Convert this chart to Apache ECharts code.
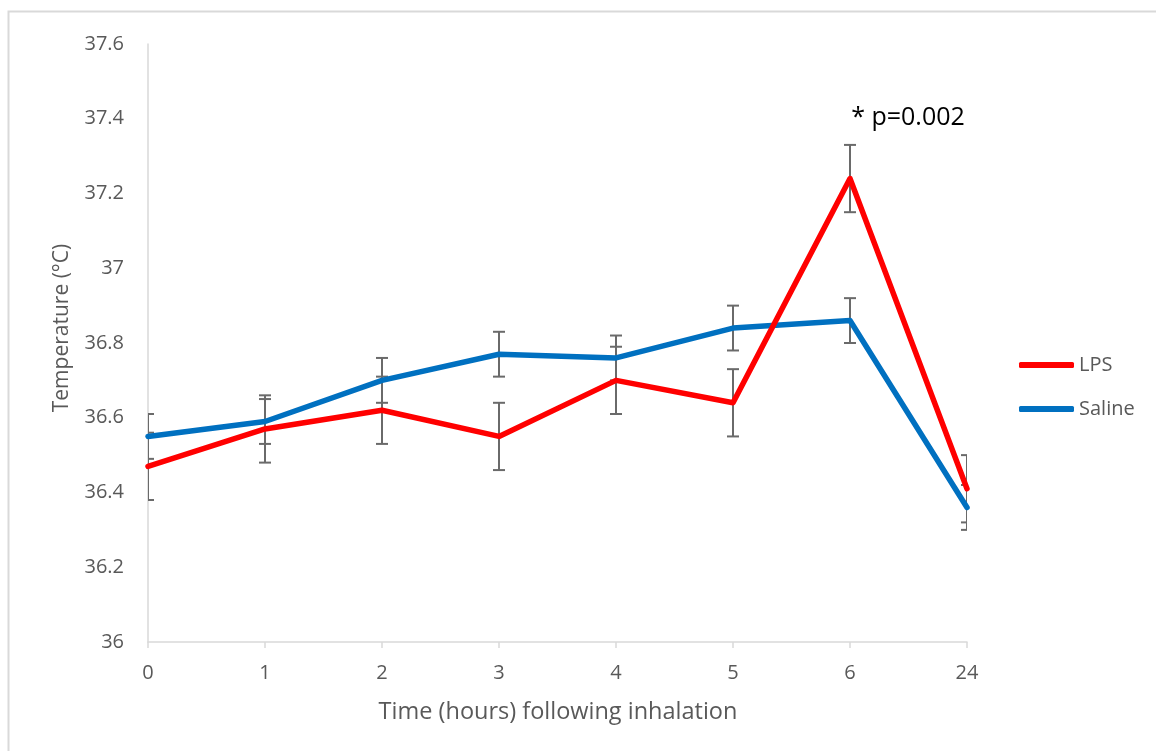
<!DOCTYPE html>
<html>
<head>
<meta charset="utf-8">
<title>Body temperature after inhalation</title>
<script src="https://cdn.jsdelivr.net/npm/echarts@6/dist/echarts.min.js"></script>
<style>
  html, body { margin: 0; padding: 0; background: #ffffff; }
  #chart { width: 1156px; height: 751px; }
</style>
</head>
<body>
<div id="chart"></div>
<script>
// Time points (hours after inhalation)
const categories = ['0', '1', '2', '3', '4', '5', '6', '24'];

// Mean temperature (°C) per group
const lpsValues    = [36.47, 36.57, 36.62, 36.55, 36.70, 36.64, 37.24, 36.41];
const salineValues = [36.55, 36.59, 36.70, 36.77, 36.76, 36.84, 36.86, 36.36];

// Error bar half-widths (°C)
const lpsErrors    = [0.09, 0.09, 0.09, 0.09, 0.09, 0.09, 0.09, 0.09];
const salineErrors = [0.06, 0.06, 0.06, 0.06, 0.06, 0.06, 0.06, 0.06];

// Y axis range
const yMin = 36;
const yMax = 37.6;
const yStep = 0.2;

const annotationText = '* p=0.002';

const textGray = '#595959';
const axisGray = '#d9d9d9';
const barGray = '#6a6a6a';
const fontFamily = '"Open Sans", "Noto Sans", sans-serif';

function errorData(values, errors) {
  return values.map((v, i) => [i, +(v - errors[i]).toFixed(3), +(v + errors[i]).toFixed(3)]);
}

function renderErrorBar(params, api) {
  const x = api.value(0);
  const top = api.coord([x, api.value(2)]);
  const bot = api.coord([x, api.value(1)]);
  const hw = 6;
  const style = { stroke: barGray, lineWidth: 2, fill: null };
  return {
    type: 'group',
    children: [
      { type: 'line', shape: { x1: top[0], y1: top[1], x2: bot[0], y2: bot[1] }, style },
      { type: 'line', shape: { x1: top[0] - hw, y1: top[1], x2: top[0] + hw, y2: top[1] }, style },
      { type: 'line', shape: { x1: bot[0] - hw, y1: bot[1], x2: bot[0] + hw, y2: bot[1] }, style }
    ]
  };
}

const chart = echarts.init(document.getElementById('chart'));

chart.setOption({
  backgroundColor: '#ffffff',
  animation: false,
  textStyle: { fontFamily },
  grid: { left: 148, right: 189, top: 44, bottom: 109, containLabel: false },
  xAxis: {
    type: 'category',
    data: categories,
    boundaryGap: false,
    axisLine: { show: true, lineStyle: { color: axisGray, width: 1.5 } },
    axisTick: { show: true, length: 6, lineStyle: { color: axisGray, width: 1.5 } },
    axisLabel: { color: textGray, fontSize: 20, margin: 21, fontFamily },
    splitLine: { show: false }
  },
  yAxis: {
    type: 'value',
    min: yMin,
    max: yMax,
    interval: yStep,
    axisLine: { show: true, lineStyle: { color: axisGray, width: 1.5 } },
    axisTick: { show: false },
    axisLabel: { color: textGray, fontSize: 20, margin: 24, fontFamily },
    splitLine: { show: false }
  },
  legend: {
    orient: 'vertical',
    left: 1019,
    top: 355,
    padding: 0,
    itemWidth: 55,
    itemHeight: 6,
    itemGap: 24,
    data: [
      { name: 'LPS', icon: 'roundRect' },
      { name: 'Saline', icon: 'roundRect' }
    ],
    textStyle: { color: textGray, fontSize: 20, fontFamily }
  },
  series: [
    {
      name: 'LPS error',
      type: 'custom',
      renderItem: renderErrorBar,
      data: errorData(lpsValues, lpsErrors),
      encode: { x: 0, y: [1, 2] },
      clip: true,
      z: 1,
      silent: true
    },
    {
      name: 'Saline error',
      type: 'custom',
      renderItem: renderErrorBar,
      data: errorData(salineValues, salineErrors),
      encode: { x: 0, y: [1, 2] },
      clip: true,
      z: 1,
      silent: true
    },
    {
      name: 'LPS',
      type: 'line',
      data: lpsValues,
      showSymbol: false,
      symbol: 'none',
      color: '#ff0000',
      lineStyle: { color: '#ff0000', width: 5.5, join: 'round', cap: 'round' },
      z: 3
    },
    {
      name: 'Saline',
      type: 'line',
      data: salineValues,
      showSymbol: false,
      symbol: 'none',
      color: '#0070c0',
      lineStyle: { color: '#0070c0', width: 5.5, join: 'round', cap: 'round' },
      z: 2
    }
  ],
  graphic: [
    {
      type: 'rect',
      silent: true,
      shape: { x: 8.5, y: 11.5, width: 1200, height: 800 },
      style: { fill: null, stroke: axisGray, lineWidth: 2 },
      z: -1
    },
    {
      type: 'text',
      x: 62,
      y: 328,
      rotation: Math.PI / 2,
      style: {
        text: 'Temperature (°C)',
        fill: textGray,
        font: '21px ' + fontFamily,
        align: 'center',
        verticalAlign: 'middle'
      }
    },
    {
      type: 'text',
      x: 558,
      y: 712,
      style: {
        text: 'Time (hours) following inhalation',
        fill: textGray,
        font: '23.5px ' + fontFamily,
        align: 'center',
        verticalAlign: 'middle'
      }
    },
    {
      type: 'text',
      x: 908,
      y: 118,
      style: {
        text: annotationText,
        fill: '#000000',
        font: '25px ' + fontFamily,
        align: 'center',
        verticalAlign: 'middle'
      }
    }
  ]
});
</script>
</body>
</html>
